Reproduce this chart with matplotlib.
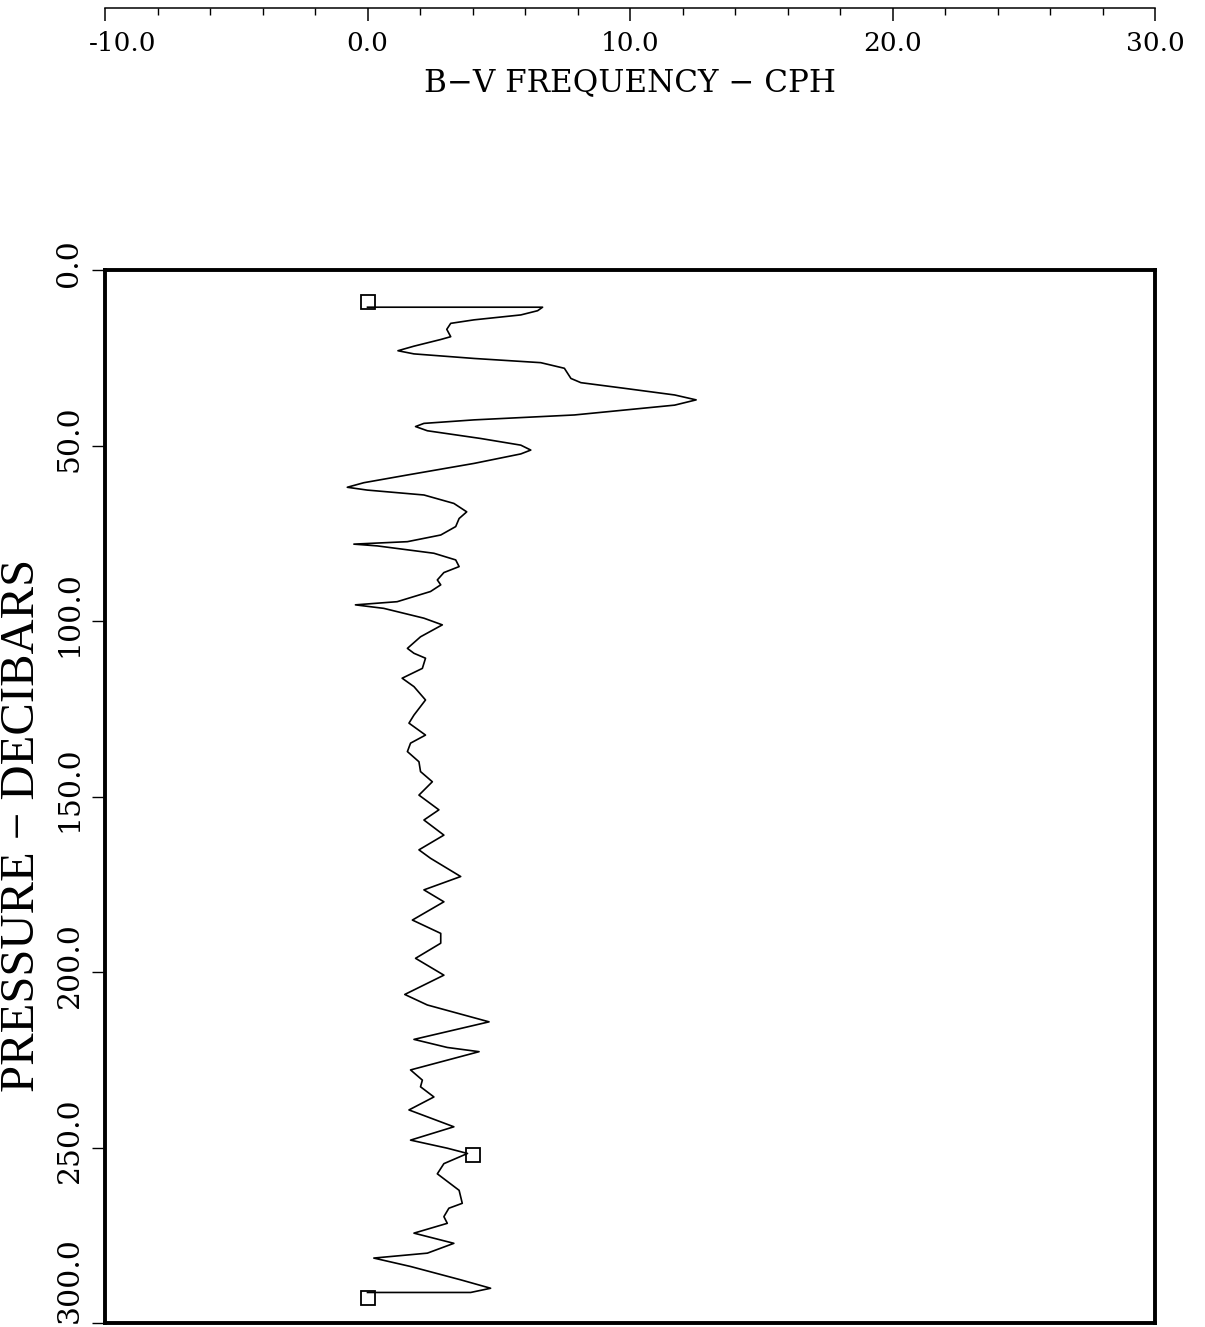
import matplotlib
matplotlib.use("Agg")
import matplotlib.pyplot as plt
from matplotlib.ticker import FormatStrFormatter
from matplotlib.transforms import ScaledTranslation

# B-V frequency profile (cph) against pressure (decibars)
pressure = [10.6, 10.6, 11.6, 12.8, 14.2, 15.2, 16.9, 19.0, 19.8, 21.7, 23.0,
            23.9, 25.2, 26.4, 28.0, 30.9, 32.1, 33.7, 35.6, 37.0, 38.5, 41.3,
            42.7, 43.7, 44.6, 45.8, 48.0, 49.9, 51.3, 52.4, 55.1, 58.4, 60.6,
            61.9, 62.7, 64.1, 66.5, 68.9, 70.8, 73.1, 75.5, 77.4, 78.1, 78.6,
            80.7, 82.6, 84.5, 86.2, 88.3, 89.7, 91.6, 94.5, 95.4, 96.4, 99.2,
            101.1, 104.5, 107.8, 109.2, 110.6, 113.5, 116.3, 118.7, 122.5,
            126.8, 129.1, 132.5, 134.8, 137.2, 140.1, 142.9, 145.8, 149.6,
            153.8, 156.7, 161.0, 165.2, 167.6, 172.8, 176.6, 180.0, 185.2,
            189.0, 191.8, 196.1, 200.9, 206.4, 209.4, 214.2, 219.2, 221.5,
            222.7, 227.9, 230.8, 232.7, 235.6, 239.3, 244.1, 247.9, 250.2,
            251.7, 254.6, 257.5, 262.2, 265.9, 267.3, 269.7, 271.6, 274.4,
            277.3, 280.1, 281.5, 283.9, 287.7, 290.1, 291.3, 291.3]
freq = [0.0, 6.67, 6.48, 5.84, 4.06, 3.17, 3.02, 3.17, 2.79, 1.77, 1.16,
        1.77, 4.06, 6.6, 7.5, 7.75, 8.13, 9.78, 11.7, 12.52, 11.7, 7.88,
        4.06, 2.15, 1.83, 2.28, 4.31, 5.84, 6.22, 5.84, 4.06, 1.52, -0.14,
        -0.77, -0.01, 2.15, 3.29, 3.78, 3.49, 3.36, 2.79, 1.52, -0.52, 0.37,
        2.53, 3.36, 3.49, 2.91, 2.66, 2.79, 2.4, 1.13, -0.46, 0.62, 2.15,
        2.85, 2.02, 1.52, 1.77, 2.21, 2.09, 1.32, 1.77, 2.21,
        1.77, 1.58, 2.21, 1.64, 1.52, 1.96, 2.02, 2.47, 1.96,
        2.72, 2.15, 2.91, 1.96, 2.4, 3.55, 2.15, 2.91, 1.71,
        2.79, 2.79, 1.83, 2.91, 1.42, 2.28, 4.63, 1.77, 3.04,
        4.25, 1.64, 2.09, 2.02, 2.53, 1.58, 3.29, 1.64, 3.04,
        3.81, 2.91, 2.66, 3.49, 3.61, 3.1, 2.91, 3.04, 1.77,
        3.29, 2.28, 0.24, 1.64, 3.55, 4.69, 3.93, 0.0]

# square symbols
mark_freq = [0.0, 4.0, 0.0]
mark_pres = [9.1, 252.1, 292.9]

yticks = [0, 50, 100, 150, 200, 250, 300]
xticks = [-10, 0, 10, 20, 30]
xminor = list(range(-10, 31, 2))

W, H = 1205, 1327
fig = plt.figure(figsize=(W / 100, H / 100), dpi=100)
fig.patch.set_facecolor("white")

# main box
ax = fig.add_axes([105 / W, 4 / H, 1050 / W, 1053 / H])
ax.plot(freq, pressure, color="black", lw=1.2)
ax.plot(mark_freq, mark_pres, "s", mfc="none", mec="black", ms=10, mew=1.3)
ax.set_xlim(-10, 30)
ax.set_ylim(300, 0)
ax.set_xticks([])
ax.set_yticks(yticks)
ax.yaxis.set_major_formatter(FormatStrFormatter("%.1f"))
ax.tick_params(axis="y", direction="out", length=9.5, width=1, pad=6,
               labelsize=21.5, labelrotation=90)
up = ScaledTranslation(0, 0.07, fig.dpi_scale_trans)
ylabels = ax.get_yticklabels()
for lbl in ylabels:
    lbl.set_family("DejaVu Serif")
    lbl.set_va("center")
for lbl in ylabels[:-1]:
    lbl.set_transform(lbl.get_transform() + up)
ylabels[-1].set_va("bottom")
for s in ax.spines.values():
    s.set_linewidth(2.8)

fig.text(22 / W, 1 - 825 / H, "PRESSURE \u2212 DECIBARS", family="Liberation Serif",
         fontsize=35, rotation=90, ha="center", va="center")

# frequency scale drawn at the top of the page
axt = fig.add_axes([105 / W, 1 - 8 / H, 1050 / W, 1e-4])
axt.patch.set_visible(False)
for k in ("top", "left", "right"):
    axt.spines[k].set_visible(False)
axt.spines["bottom"].set_linewidth(1.1)
axt.set_yticks([])
axt.set_xlim(-10, 30)
axt.set_xticks(xticks)
axt.set_xticks(xminor, minor=True)
axt.xaxis.set_major_formatter(FormatStrFormatter("%.1f"))
axt.tick_params(axis="x", which="major", direction="out", length=9.5,
                width=1.1, pad=7, labelsize=19)
axt.tick_params(axis="x", which="minor", direction="out", length=5, width=1)
xlabels = axt.get_xticklabels()
for lbl in xlabels:
    lbl.set_family("DejaVu Serif")
# leftmost label sits a little right of its tick in the original
xlabels[0].set_transform(xlabels[0].get_transform()
                         + ScaledTranslation(0.18, 0, fig.dpi_scale_trans))
axt.set_xlabel("B\u2212V FREQUENCY \u2212 CPH", family="DejaVu Serif",
               fontsize=22.3, labelpad=8)

fig.savefig("out.png", dpi=100)
